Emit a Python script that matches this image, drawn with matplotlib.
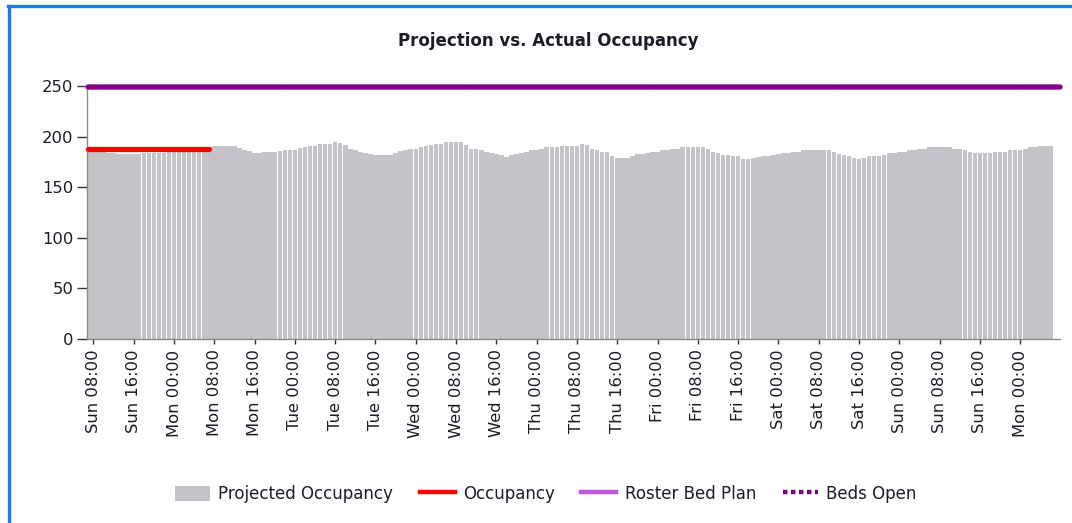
# Projection vs. actual occupancy chart: hourly projected bars with
# occupancy, roster bed plan and beds open lines on top.

from datetime import datetime, timedelta
import matplotlib
matplotlib.use("Agg")
import matplotlib.pyplot as plt
import matplotlib.dates as mdates
from matplotlib.lines import Line2D
from matplotlib.patches import Patch

# Hourly projected occupancy, Sun 07:00 through the following Mon 06:00
projected = [
    185, 185, 185, 185, 184, 184, 183, 183, 183, 183, 183, 184, 184, 184, 184, 184,
    185, 185, 185, 186, 186, 186, 186, 186, 190, 191, 191, 191, 191, 191, 189, 187,
    186, 184, 184, 185, 185, 185, 186, 187, 187, 187, 189, 190, 191, 191, 193, 193,
    193, 195, 194, 192, 188, 187, 185, 184, 183, 182, 182, 182, 182, 184, 186, 187,
    188, 188, 190, 191, 192, 193, 193, 195, 195, 195, 195, 192, 188, 188, 187, 185,
    184, 183, 182, 180, 182, 183, 184, 185, 187, 187, 188, 190, 190, 190, 191, 191,
    191, 191, 193, 192, 188, 187, 185, 185, 181, 179, 179, 179, 181, 183, 183, 184,
    185, 185, 187, 187, 188, 188, 190, 190, 190, 190, 190, 188, 185, 184, 182, 182,
    181, 181, 178, 178, 179, 180, 181, 181, 182, 183, 184, 184, 185, 185, 187, 187,
    187, 187, 187, 187, 185, 183, 182, 181, 179, 178, 179, 181, 181, 181, 182, 184,
    184, 185, 185, 187, 187, 188, 188, 190, 190, 190, 190, 190, 188, 188, 187, 185,
    184, 184, 184, 184, 185, 185, 185, 187, 187, 187, 188, 190, 190, 191, 191, 191,
]

# Actual occupancy recorded so far (Sun 07:00 to Mon 07:00)
occupancy = [188, 188, 188, 188, 188, 188, 188, 188, 188, 188, 188, 188, 188,
             188, 188, 188, 188, 188, 188, 188, 188, 188, 188, 188, 188]

# Bed plan levels at the start and end of the week
roster_bed_plan = [249, 249]
beds_open = [249, 249]

start = datetime(2024, 1, 7, 7, 0)  # a Sunday
hours = [start + timedelta(hours=i) for i in range(len(projected))]
occ_hours = [start + timedelta(hours=i) for i in range(len(occupancy))]
plan_hours = [start, start + timedelta(hours=len(projected) + 1)]

bar_color = "#c5c3c7"
occ_color = "#ff0000"
roster_color = "#c057d8"
beds_color = "#800080"
text_color = "#1c1c28"

plt.rcParams["font.family"] = "DejaVu Sans"

fig = plt.figure(figsize=(10.72, 5.23), dpi=100)
ax = fig.add_axes([0.0812, 0.3518, 0.9076, 0.4838])

ax.bar(hours, projected, width=0.9 / 24, color=bar_color, linewidth=0, zorder=2)
ax.plot(occ_hours, occupancy, color=occ_color, linewidth=3.8,
        solid_capstyle="round", zorder=3, clip_on=False)
ax.plot(plan_hours, roster_bed_plan, color=roster_color, linewidth=4.2,
        solid_capstyle="round", zorder=4, clip_on=False)
ax.plot(plan_hours, beds_open, color=beds_color, linewidth=3.2,
        linestyle=(0, (0.8, 0.35)), dash_capstyle="round", zorder=5, clip_on=False)

ax.set_ylim(0, 250)
ax.set_yticks([0, 50, 100, 150, 200, 250])
ax.set_xlim(start - timedelta(minutes=16), start + timedelta(hours=192.9))
ax.xaxis.set_major_locator(mdates.HourLocator(byhour=[0, 8, 16]))
ax.xaxis.set_major_formatter(mdates.DateFormatter("%a %H:%M"))
ax.set_xticks([t for t in ax.get_xticks() if t >= mdates.date2num(start + timedelta(hours=1))])

for side in ("top", "right"):
    ax.spines[side].set_visible(False)
for side in ("left", "bottom"):
    ax.spines[side].set_color("#8a8a8a")
    ax.spines[side].set_linewidth(1)

ax.tick_params(axis="both", direction="out", width=1,
               color="#333333", labelcolor=text_color, labelsize=11.8)
ax.tick_params(axis="x", labelrotation=90, length=3.5, pad=4)
ax.tick_params(axis="y", length=7, pad=3)

fig.text(0.5112, 0.922, "Projection vs. Actual Occupancy", ha="center", va="center",
         fontsize=12, fontweight="bold", color=text_color)

handles = [
    Patch(facecolor=bar_color, edgecolor="none"),
    Line2D([], [], color=occ_color, linewidth=3.2),
    Line2D([], [], color=roster_color, linewidth=3.2),
    Line2D([], [], color=beds_color, linewidth=3.2, linestyle=(0, (1, 0.8))),
]
labels = ["Projected Occupancy", "Occupancy", "Roster Bed Plan", "Beds Open"]
fig.legend(handles, labels, loc="center", bbox_to_anchor=(0.509, 0.0555), ncol=4,
           frameon=False, fontsize=12, handlelength=2.1, handleheight=1.0,
           handletextpad=0.5, columnspacing=1.6, labelcolor=text_color)

# Blue frame along the top and left edges
fig.add_artist(Line2D([0.0075, 1.0], [0.9885, 0.9885], color="#1a7fe3",
                      linewidth=2.4, transform=fig.transFigure))
fig.add_artist(Line2D([0.0080, 0.0080], [0.0, 0.9885], color="#1a7fe3",
                      linewidth=2.4, transform=fig.transFigure))

fig.savefig("out.png", dpi=100)
